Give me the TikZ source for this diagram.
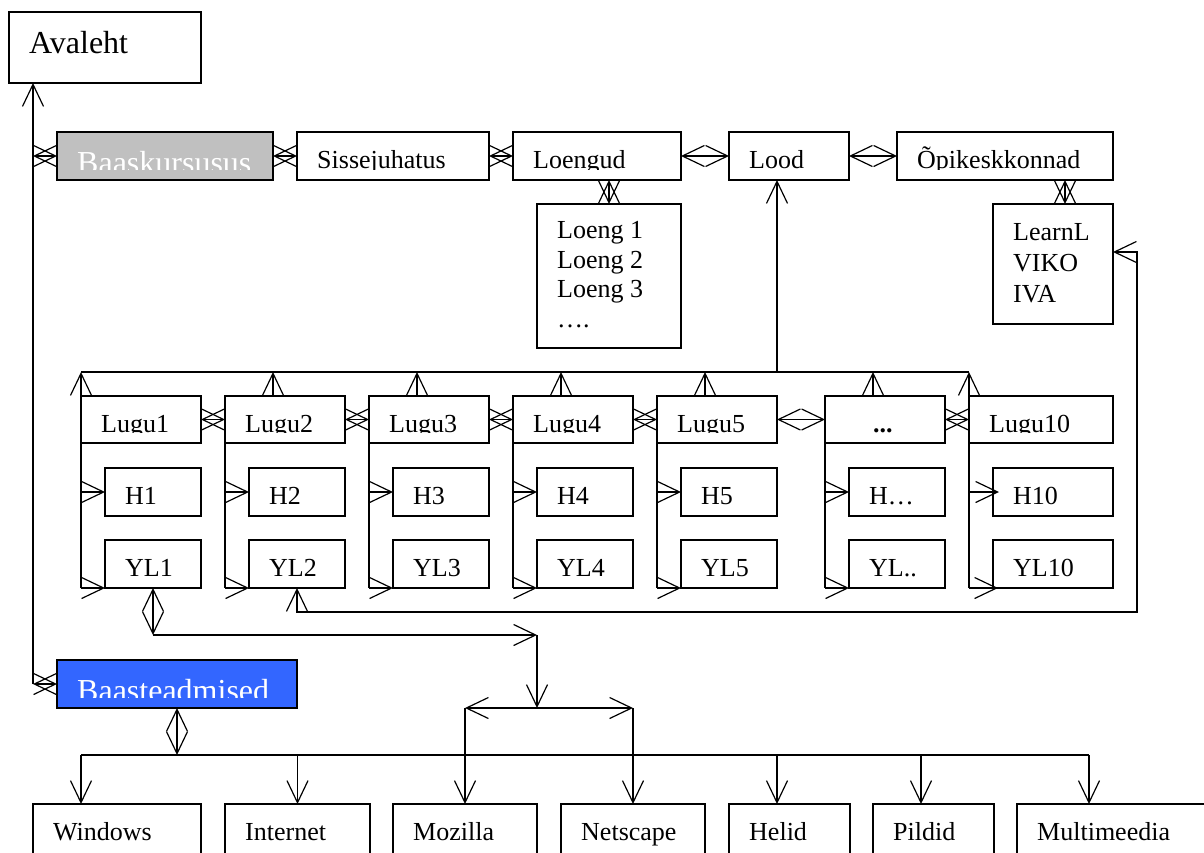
\documentclass[tikz,border=0pt]{standalone}
\usepackage{fontspec}
\setmainfont{Liberation Serif}
\usetikzlibrary{arrows.meta,fit}
\definecolor{boxgray}{RGB}{192,192,192}
\definecolor{boxblue}{RGB}{51,102,255}
\tikzset{
  bxs/.style={draw, line width=1.8pt, inner sep=0pt, outer sep=0pt, fill=white},
  lbl/.style={inner sep=0pt, anchor=base west, font=\fontsize{26pt}{30pt}\selectfont},
  biglbl/.style={inner sep=0pt, anchor=base west, font=\fontsize{32pt}{36pt}\selectfont},
  ml/.style={inner sep=0pt, anchor=north west, align=left},
  conn/.style={line width=1.2pt},
  wb/.tip={Straight Barb[length=22pt,width=21pt]},
  ar/.style={conn,-wb},
  dar/.style={conn,wb-wb},
}
% #1 name, #2 corner, #3 corner, #4 box options, #5 label options, #6 baseline offset, #7 text
\newcommand\mybx[7]{%
  \node[bxs,#4,fit={(#2)(#3)}] (#1) {};
  \begin{scope}
    \clip (#1.north west) rectangle ([yshift=11pt]#1.south east);
    \node[#5] (#1-t) at ([xshift=20pt,yshift=-#6pt]#1.north west) {#7};
  \end{scope}}
\begin{document}
\begin{tikzpicture}[x=1pt,y=-1pt]
\clip (0,0) rectangle (1204,852);
\fill[white] (0,0) rectangle (1204,852);

% top part
\mybx{avaleht}{9,12}{201,83}{}{biglbl}{41}{Avaleht}
\mybx{baask}{57,132}{273,180}{fill=boxgray}{biglbl,text=white}{41}{Baaskursusus}
\mybx{sisse}{297,132}{489,180}{}{lbl}{36}{Sissejuhatus}
\mybx{loengud}{513,132}{681,180}{}{lbl}{36}{Loengud}
\mybx{lood}{729,132}{849,180}{}{lbl}{36}{Lood}
\mybx{opik}{897,132}{1113,180}{}{lbl}{36}{Õpikeskkonnad}
\node[bxs,fit={(537,204)(681,348)}] (loeng) {};
\node[ml,font=\fontsize{26pt}{29.5pt}\selectfont] (loeng-t) at ([xshift=20pt,yshift=-17.4pt]loeng.north west) {Loeng 1\\Loeng 2\\Loeng 3\\….};
\node[bxs,fit={(993,204)(1113,324)}] (learnl) {};
\node[ml,font=\fontsize{26pt}{31pt}\selectfont] (learnl-t) at ([xshift=20pt,yshift=-18.8pt]learnl.north west) {LearnL\\VIKO\\IVA};

% Lugu rows
\mybx{lugu1}{81,396}{201,443}{}{lbl}{36}{Lugu1}
\mybx{h1}{105,468}{201,516}{}{lbl}{36}{H1}
\mybx{yl1}{105,540}{201,588}{}{lbl}{36}{YL1}
\mybx{lugu2}{225,396}{345,443}{}{lbl}{36}{Lugu2}
\mybx{h2}{249,468}{345,516}{}{lbl}{36}{H2}
\mybx{yl2}{249,540}{345,588}{}{lbl}{36}{YL2}
\mybx{lugu3}{369,396}{489,443}{}{lbl}{36}{Lugu3}
\mybx{h3}{393,468}{489,516}{}{lbl}{36}{H3}
\mybx{yl3}{393,540}{489,588}{}{lbl}{36}{YL3}
\mybx{lugu4}{513,396}{633,443}{}{lbl}{36}{Lugu4}
\mybx{h4}{537,468}{633,516}{}{lbl}{36}{H4}
\mybx{yl4}{537,540}{633,588}{}{lbl}{36}{YL4}
\mybx{lugu5}{657,396}{777,443}{}{lbl}{36}{Lugu5}
\mybx{h5}{681,468}{777,516}{}{lbl}{36}{H5}
\mybx{yl5}{681,540}{777,588}{}{lbl}{36}{YL5}
\mybx{lugud}{825,396}{945,443}{}{lbl,xshift=28pt}{36}{\textbf{...}}
\mybx{hd}{849,468}{945,516}{}{lbl}{36}{H…}
\mybx{yld}{849,540}{945,588}{}{lbl}{36}{YL..}
\mybx{lugu10}{969,396}{1113,443}{}{lbl}{36}{Lugu10}
\mybx{h10}{993,468}{1113,516}{}{lbl}{36}{H10}
\mybx{yl10}{993,540}{1113,588}{}{lbl}{36}{YL10}

% lower part
\mybx{baast}{57,660}{297,708}{fill=boxblue}{biglbl,text=white}{41}{Baasteadmised}
\mybx{windows}{33,804}{201,880}{}{lbl}{36}{Windows}
\mybx{internet}{225,804}{370,880}{}{lbl}{36}{Internet}
\mybx{mozilla}{393,804}{537,880}{}{lbl}{36}{Mozilla}
\mybx{netscape}{561,804}{705,880}{}{lbl}{36}{Netscape}
\mybx{helid}{729,804}{850,880}{}{lbl}{36}{Helid}
\mybx{pildid}{873,804}{994,880}{}{lbl}{36}{Pildid}
\mybx{multi}{1017,804}{1230,880}{}{lbl}{36}{Multimeedia}

% junction coordinates
\coordinate (jA) at (33,684);
\coordinate (busL) at (81,372);
\coordinate (busR) at (969,372);
\coordinate (rB) at (1137,612);
\coordinate (rT) at (1137,252);
\coordinate (j1) at (153,635);
\coordinate (j2) at (537,635);
\coordinate (j3) at (537,708);
\coordinate (b2L) at (81,755);
\coordinate (b2R) at (1089,755);

% left spine to Avaleht
\draw[ar] (jA) -- (jA |- avaleht.south);
\draw[dar] (jA |- baask.west) -- (baask.west);
\draw[dar] (jA) -- (baast.west);

% top row
\draw[dar] (baask.east) -- (sisse.west);
\draw[dar] (sisse.east) -- (loengud.west);
\draw[dar] (loengud.east) -- (lood.west);
\draw[dar] (lood.east) -- (opik.west);
\draw[dar] ([xshift=12pt]loengud.south) -- ([xshift=12pt]loengud.south |- loeng.north);
\draw[dar] ([xshift=12pt]learnl.north |- opik.south) -- ([xshift=12pt]learnl.north);

% bus to Lood
\draw[conn] (busL) -- (busR);
\draw[ar] ([xshift=-12pt]lood.south |- busL) -- ([xshift=-12pt]lood.south);

% Lugu1
\draw[ar] (lugu1.south west |- yl1.south) -- (busL);
\draw[ar] (lugu1.west |- h1.west) -- (h1.west);
\draw[ar] (lugu1.west |- yl1.south) -- (yl1.south west);
% Lugu2 .. dots
\foreach \L/\H/\Y in {lugu2/h2/yl2, lugu3/h3/yl3, lugu4/h4/yl4, lugu5/h5/yl5, lugud/hd/yld}{
  \draw[conn] (\L.south west) -- (\L.south west |- \Y.south);
  \draw[ar] (\L.south west |- \H.west) -- (\H.west);
  \draw[ar] (\L.south west |- \Y.south) -- (\Y.south west);
  \draw[ar] ([xshift=48pt]\L.north west) -- ([xshift=48pt]\L.north west |- busL);
}
% Lugu10
\draw[ar] (lugu10.west |- yl10.south) -- (busR);
\draw[ar] (lugu10.west |- h10.west) -- ([xshift=6pt]h10.west);
\draw[ar] (lugu10.west |- yl10.south) -- ([xshift=5pt]yl10.south west);

% Lugu horizontal links
\draw[dar] (lugu1.east) -- (lugu2.west);
\draw[dar] (lugu2.east) -- (lugu3.west);
\draw[dar] (lugu3.east) -- (lugu4.west);
\draw[dar] (lugu4.east) -- (lugu5.west);
\draw[dar] (lugu5.east) -- (lugud.west);
\draw[dar] (lugud.east) -- (lugu10.west);

% YL2 to LearnL
\draw[dar] (yl2.south) -- (yl2.south |- rB) -- (rB) -- (rT) -- (rT -| learnl.east);

% YL1 to Mozilla / Netscape
\draw[dar] (yl1.south) -- (j1);
\draw[ar] (j1) -- (j2);
\draw[ar] (j2) -- (j3);
\draw[dar] (mozilla.north |- j3) -- (netscape.north |- j3);
\draw[ar] (mozilla.north |- j3) -- (mozilla.north);
\draw[ar] (netscape.north |- j3) -- (netscape.north);

% Baasteadmised bus
\draw[dar] (baast.south) -- (baast.south |- b2L);
\draw[conn] (b2L) -- (b2R);
\draw[ar] (b2L) -- (b2L |- windows.north);
\draw[ar] (internet.north |- b2L) -- (internet.north);
\draw[ar] ([xshift=48pt]helid.north west |- b2L) -- ([xshift=48pt]helid.north west);
\draw[ar] ([xshift=48pt]pildid.north west |- b2L) -- ([xshift=48pt]pildid.north west);
\draw[ar] (b2R) -- (b2R |- multi.north);
\end{tikzpicture}
\end{document}
